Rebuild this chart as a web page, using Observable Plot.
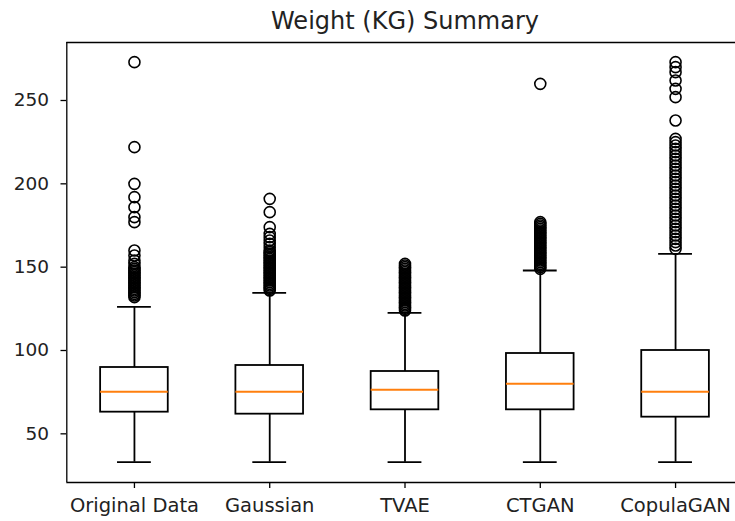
<!DOCTYPE html>
<html>
<head>
<meta charset="utf-8">
<script src="https://cdn.jsdelivr.net/npm/d3@7"></script>
<script src="https://cdn.jsdelivr.net/npm/@observablehq/plot@0.6"></script>
<style>
  html, body { margin: 0; padding: 0; background: #fff; overflow: hidden; }
  #chart { width: 735px; height: 521px; overflow: hidden; }
</style>
</head>
<body>
<div id="chart"></div>
<script>
const title = "Weight (KG) Summary";
const categories = ["Original Data", "Gaussian", "TVAE", "CTGAN", "CopulaGAN"];
const yTicks = [50, 100, 150, 200, 250];
const whiskerLo = [33, 33, 33, 33, 33];
const q1 = [63, 61.8, 64.4, 64.4, 60];
const median = [75.2, 75.2, 76.4, 80, 75.2];
const q3 = [89.8, 91, 87.4, 98.2, 100];
const whiskerHi = [126.2, 134.6, 122.6, 148, 158];
const outliersOriginal = [273, 222, 200, 192, 186, 180, 177, 160, 157, 154, 152, 150, 149, 148, 147, 146, 145, 144, 143, 142, 141, 140, 139, 138, 137, 136, 135, 134, 133, 132];
const outliersGaussian = [191, 183, 174, 170, 168, 166, 164, 162, 160, 159, 158, 157, 156, 155, 154, 153, 152, 151, 150, 149, 148, 147, 146, 145, 144, 143, 142, 141, 140, 139, 138, 137, 136];
const outliersTVAE = [152, 151, 150, 149, 148, 147, 146, 145, 144, 143, 142, 141, 140, 139, 138, 137, 136, 135, 134, 133, 132, 131, 130, 129, 128, 127, 126, 125, 124];
const outliersCTGAN = [260, 177, 176, 175, 174, 173, 172, 171, 170, 169, 168, 167, 166, 165, 164, 163, 162, 161, 160, 159, 158, 157, 156, 155, 154, 153, 152, 151, 150, 149];
const outliersCopulaGAN = [273, 270, 267, 262, 257, 252, 238, 227, 225, 223, 221, 219, 217, 215, 213, 211, 209, 207, 205, 203, 201, 199, 197, 195, 193, 191, 189, 187, 185, 183, 181, 179, 177, 175, 173, 171, 169, 167, 165, 163, 161];
const outlierLists = [outliersOriginal, outliersGaussian, outliersTVAE, outliersCTGAN, outliersCopulaGAN];

const boxes = categories.map((c, i) => ({
  pos: i + 1, lo: whiskerLo[i], q1: q1[i], med: median[i], q3: q3[i], hi: whiskerHi[i]
}));
const outliers = outlierLists.flatMap((list, i) => list.map(v => ({pos: i + 1, v})));

const yDomain = [20.8, 284.8];
const xDomain = [0.5, 5.5];
const boxHalf = 0.25, capHalf = 0.125;
const font = "DejaVu Sans, sans-serif";
const lw = 1.8;

const chart = Plot.plot({
  width: 735,
  height: 521,
  marginLeft: 66,
  marginRight: 0,
  marginTop: 42,
  marginBottom: 39,
  style: {fontFamily: font, background: "#fff", color: "#222", overflow: "hidden"},
  x: {type: "linear", domain: xDomain, range: [66.3, 742.7], label: null},
  y: {domain: yDomain, label: null},
  marks: [
    // frame
    Plot.ruleX([xDomain[0]], {y1: yDomain[0], y2: yDomain[1], stroke: "#000", strokeWidth: 1.3}),
    Plot.ruleY(yDomain, {x1: xDomain[0], x2: xDomain[1], stroke: "#000", strokeWidth: 1.3}),
    Plot.ruleX([xDomain[1]], {y1: yDomain[0], y2: yDomain[1], stroke: "#000", strokeWidth: 1.3}),
    // whiskers
    Plot.ruleX(boxes, {x: "pos", y1: "q3", y2: "hi", stroke: "#000", strokeWidth: lw}),
    Plot.ruleX(boxes, {x: "pos", y1: "lo", y2: "q1", stroke: "#000", strokeWidth: lw}),
    Plot.ruleY(boxes, {y: "hi", x1: d => d.pos - capHalf, x2: d => d.pos + capHalf, stroke: "#000", strokeWidth: lw}),
    Plot.ruleY(boxes, {y: "lo", x1: d => d.pos - capHalf, x2: d => d.pos + capHalf, stroke: "#000", strokeWidth: lw}),
    // boxes
    Plot.rect(boxes, {x1: d => d.pos - boxHalf, x2: d => d.pos + boxHalf, y1: "q1", y2: "q3", fill: "none", stroke: "#000", strokeWidth: lw}),
    Plot.ruleY(boxes, {y: "med", x1: d => d.pos - boxHalf, x2: d => d.pos + boxHalf, stroke: "#ff7f0e", strokeWidth: 2}),
    // outliers
    Plot.dot(outliers, {x: "pos", y: "v", r: 5.5, stroke: "#000", strokeWidth: 1.6, fill: "none"}),
    // axes
    Plot.axisY({ticks: yTicks, tickSize: 5.5, tickPadding: 12, fontSize: 18.5, stroke: "#000", strokeWidth: 1.3, fill: "#222", label: null}),
    Plot.axisX({ticks: [1, 2, 3, 4, 5], tickFormat: i => categories[i - 1], tickSize: 6, tickPadding: 10, fontSize: 19.5, stroke: "#000", strokeWidth: 1.3, fill: "#222", label: null}),
    // title
    Plot.text([title], {x: () => 3, y: () => yDomain[1], text: d => d, dy: -14, lineAnchor: "bottom", fontSize: 24, fill: "#222"})
  ]
});
document.getElementById("chart").appendChild(chart);
</script>
</body>
</html>
